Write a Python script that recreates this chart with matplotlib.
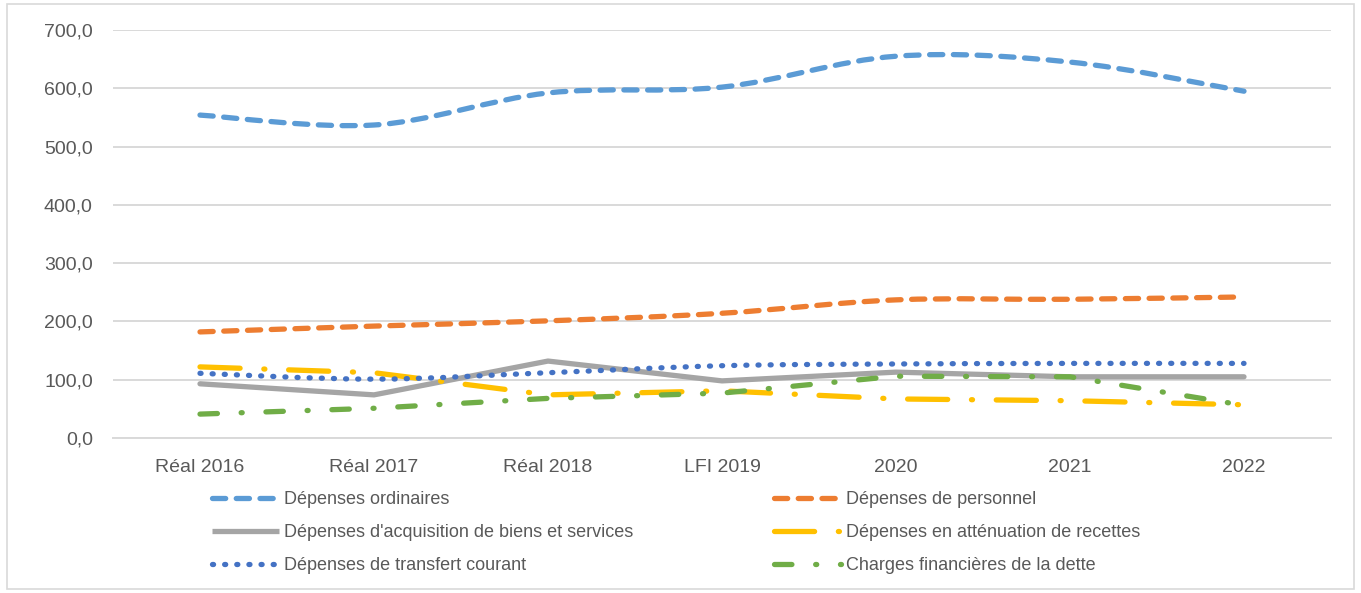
import numpy as np
import matplotlib
matplotlib.use("Agg")
import matplotlib.pyplot as plt
import matplotlib.patches as patches
import matplotlib.lines as lines
from matplotlib.path import Path

plt.rcParams['font.family'] = ['Liberation Sans', 'DejaVu Sans']

categories = ['Réal 2016', 'Réal 2017', 'Réal 2018', 'LFI 2019', '2020', '2021', '2022']

ordinaires = [554, 537, 592, 602, 655, 645, 595]
personnel = [182, 192, 201, 214, 237, 238, 242]
acquisition = [93, 74, 132, 98, 113, 105, 105]
attenuation = [122, 112, 74, 81, 67, 64, 57]
transfert = [111, 101, 112, 124, 127, 128, 128]
charges = [41, 51, 68, 77, 106, 105, 56]

yticks = [0, 100, 200, 300, 400, 500, 600, 700]

TXT = '#595959'
GRID = '#d9d9d9'
LW = 3.8


def smooth_path(xs, ys):
    # catmull-rom style bezier, like excel "smoothed line"
    pts = np.column_stack([xs, ys]).astype(float)
    n = len(pts)
    verts = [pts[0]]
    codes = [Path.MOVETO]
    for i in range(n - 1):
        p0 = pts[max(i - 1, 0)]
        p1 = pts[i]
        p2 = pts[i + 1]
        p3 = pts[min(i + 2, n - 1)]
        c1 = p1 + (p2 - p0) / 6.0
        c2 = p2 - (p3 - p1) / 6.0
        verts += [c1, c2, p2]
        codes += [Path.CURVE4] * 3
    return Path(verts, codes)


series = [
    # label, values, color, dash, smoothed
    ('Dépenses ordinaires', ordinaires, '#5B9BD5', (0, (2.5, 2.0)), True),
    ('Dépenses de personnel', personnel, '#ED7D31', (0, (2.5, 2.0)), True),
    ("Dépenses d'acquisition de biens et services", acquisition, '#A5A5A5', '-', False),
    ('Dépenses en atténuation de recettes', attenuation, '#FFC000', (0, (7.6, 4.5, 0.2, 4.5)), False),
    ('Dépenses de transfert courant', transfert, '#4472C4', (0, (0.2, 2.1)), True),
    ('Charges financières de la dette', charges, '#70AD47', (0, (3.3, 4.5, 0.2, 4.5)), False),
]

W, H = 1361, 593
fig = plt.figure(figsize=(W / 100, H / 100), dpi=100)
ax = fig.add_axes([113 / W, 1 - 438 / H, (1331 - 113) / W, (438 - 30) / H])

x = np.arange(len(categories))
handles = []
for label, vals, color, ls, smooth in series:
    if smooth:
        p = patches.PathPatch(smooth_path(x, vals), fill=False, edgecolor=color, lw=LW,
                              linestyle=ls, capstyle='round', joinstyle='round', zorder=3)
        ax.add_patch(p)
    else:
        ax.plot(x, vals, color=color, lw=LW, linestyle=ls, dash_capstyle='round',
                solid_capstyle='round', solid_joinstyle='round', zorder=3)
    handles.append(lines.Line2D([], [], color=color, lw=LW, linestyle=ls, dash_capstyle='round',
                                solid_capstyle='butt', label=label))

ax.set_xlim(-0.5, len(categories) - 0.5)
ax.set_ylim(0, 700)
ax.set_yticks(yticks)
ax.set_yticklabels([f'{v:.1f}'.replace('.', ',') for v in yticks])
ax.set_xticks(x)
ax.set_xticklabels(categories)
ax.tick_params(axis='both', length=0, labelsize=14, labelcolor=TXT)
ax.tick_params(axis='y', pad=14.5)
ax.tick_params(axis='x', pad=15)
ax.grid(axis='y', color=GRID, lw=1.4)
ax.set_axisbelow(True)
for s in ['top', 'right', 'left']:
    ax.spines[s].set_visible(False)
ax.spines['bottom'].set_color(GRID)
ax.spines['bottom'].set_linewidth(1.4)

leg_kw = dict(frameon=False, fontsize=13, handlelength=3.7, handletextpad=0.3,
              labelspacing=0.9, borderpad=0, borderaxespad=0, labelcolor=TXT)
l1 = fig.legend(handles=[handles[0], handles[2], handles[4]], loc='upper left',
                bbox_to_anchor=(212 / W, 1 - 491 / H), **leg_kw)
l2 = fig.legend(handles=[handles[1], handles[3], handles[5]], loc='upper left',
                bbox_to_anchor=(774 / W, 1 - 491 / H), **leg_kw)

fig.patches.append(patches.Rectangle((7 / W, 4 / H), (1354 - 7) / W, (589 - 4) / H,
                                     transform=fig.transFigure, fill=False,
                                     edgecolor=GRID, lw=1.2))

fig.savefig('out.png', dpi=100)
